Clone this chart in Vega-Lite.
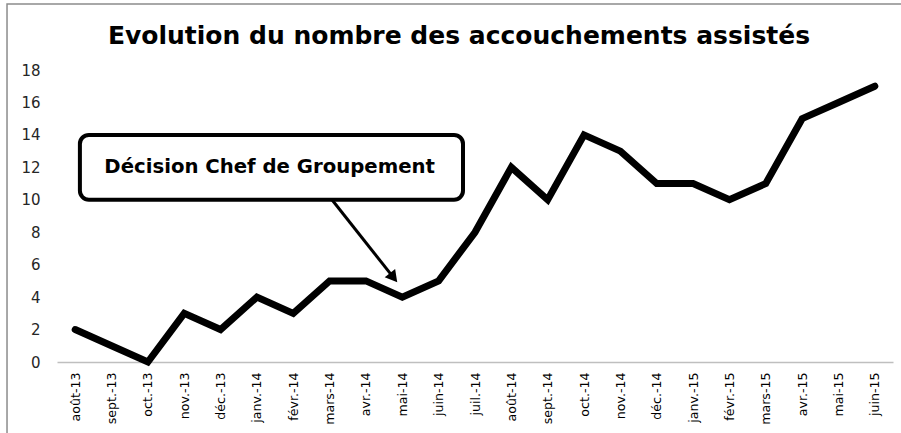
{
  "$schema": "https://vega.github.io/schema/vega-lite/v6.json",
  "autosize": "none",
  "width": 836,
  "height": 292,
  "padding": {"left": 57, "top": 70, "right": 8, "bottom": 71},
  "background": "white",
  "config": {
    "view": {"stroke": null},
    "font": "DejaVu Sans"
  },
  "title": {
    "text": "Evolution du nombre des accouchements assistés",
    "font": "DejaVu Sans",
    "fontSize": 25,
    "fontWeight": "bold",
    "color": "#000000",
    "anchor": "middle",
    "frame": "group",
    "baseline": "alphabetic",
    "dx": -16,
    "offset": -66
  },
  "datasets": {
    "series": [
      {"mois": "août-13", "n": 2},
      {"mois": "sept.-13", "n": 1},
      {"mois": "oct.-13", "n": 0},
      {"mois": "nov.-13", "n": 3},
      {"mois": "déc.-13", "n": 2},
      {"mois": "janv.-14", "n": 4},
      {"mois": "févr.-14", "n": 3},
      {"mois": "mars-14", "n": 5},
      {"mois": "avr.-14", "n": 5},
      {"mois": "mai-14", "n": 4},
      {"mois": "juin-14", "n": 5},
      {"mois": "juil.-14", "n": 8},
      {"mois": "août-14", "n": 12},
      {"mois": "sept.-14", "n": 10},
      {"mois": "oct.-14", "n": 14},
      {"mois": "nov.-14", "n": 13},
      {"mois": "déc.-14", "n": 11},
      {"mois": "janv.-15", "n": 11},
      {"mois": "févr.-15", "n": 10},
      {"mois": "mars-15", "n": 11},
      {"mois": "avr.-15", "n": 15},
      {"mois": "mai-15", "n": 16},
      {"mois": "juin-15", "n": 17}
    ],
    "frame": [{"x": -1.875, "x2": 24.5, "y": 22.07, "y2": -8}],
    "box": [{"x": 0.13, "x2": 10.67, "y": 10, "y2": 14, "tx": 5.35, "ty": 12, "label": "Décision Chef de Groupement"}],
    "arrow": [{"x": 7.065, "y": 10, "x2": 8.76, "y2": 5.2}],
    "head": [{"x": 8.76, "y": 5.2}]
  },
  "layer": [
    {
      "data": {"name": "series"},
      "mark": {"type": "line", "color": "#000000", "strokeWidth": 7, "strokeCap": "round", "strokeJoin": "miter"},
      "encoding": {
        "x": {
          "field": "mois", "type": "ordinal", "sort": null,
          "scale": {"type": "point", "padding": 0.5},
          "axis": {
            "title": null, "labelAngle": -90, "ticks": false,
            "domainColor": "#bfbfbf", "domainWidth": 1.5,
            "labelFontSize": 12.6, "labelColor": "#000000", "labelPadding": 10,
            "labelFont": "DejaVu Sans", "labelOverlap": false
          }
        },
        "y": {
          "field": "n", "type": "quantitative",
          "scale": {"domain": [0, 18], "nice": false},
          "axis": {
            "title": null, "values": [0, 2, 4, 6, 8, 10, 12, 14, 16, 18],
            "domain": false, "ticks": false, "grid": false,
            "labelFontSize": 15, "labelColor": "#262626", "labelPadding": 17,
            "labelFont": "DejaVu Sans", "labelOverlap": false
          }
        }
      }
    },
    {
      "layer": [
        {
          "data": {"name": "frame"},
          "mark": {"type": "rect", "fill": null, "stroke": "#8c8c8c", "strokeWidth": 1.5, "clip": false},
          "encoding": {
            "x": {"field": "x", "type": "quantitative", "scale": {"domain": [-0.5, 22.5], "nice": false, "zero": false}, "axis": null},
            "x2": {"field": "x2"},
            "y": {"field": "y", "type": "quantitative", "axis": null},
            "y2": {"field": "y2"}
          }
        },
        {
          "data": {"name": "box"},
          "mark": {"type": "rect", "fill": "white", "stroke": "#000000", "strokeWidth": 4, "cornerRadius": 9},
          "encoding": {
            "x": {"field": "x", "type": "quantitative", "scale": {"domain": [-0.5, 22.5], "nice": false, "zero": false}, "axis": null},
            "x2": {"field": "x2"},
            "y": {"field": "y", "type": "quantitative", "axis": null},
            "y2": {"field": "y2"}
          }
        },
        {
          "data": {"name": "box"},
          "mark": {"type": "text", "font": "DejaVu Sans", "fontSize": 19.7, "fontWeight": "bold", "color": "#000000", "align": "center", "baseline": "middle"},
          "encoding": {
            "x": {"field": "tx", "type": "quantitative", "scale": {"domain": [-0.5, 22.5], "nice": false, "zero": false}, "axis": null},
            "y": {"field": "ty", "type": "quantitative", "axis": null},
            "text": {"field": "label"}
          }
        },
        {
          "data": {"name": "arrow"},
          "mark": {"type": "rule", "color": "#000000", "strokeWidth": 3},
          "encoding": {
            "x": {"field": "x", "type": "quantitative", "scale": {"domain": [-0.5, 22.5], "nice": false, "zero": false}, "axis": null},
            "x2": {"field": "x2"},
            "y": {"field": "y", "type": "quantitative", "axis": null},
            "y2": {"field": "y2"}
          }
        },
        {
          "data": {"name": "head"},
          "mark": {"type": "point", "shape": "triangle-up", "filled": true, "color": "#000000", "opacity": 1, "size": 180, "angle": 141},
          "encoding": {
            "x": {"field": "x", "type": "quantitative", "scale": {"domain": [-0.5, 22.5], "nice": false, "zero": false}, "axis": null},
            "y": {"field": "y", "type": "quantitative", "axis": null}
          }
        }
      ]
    }
  ],
  "resolve": {"scale": {"x": "independent"}, "axis": {"x": "independent", "y": "independent"}}
}
